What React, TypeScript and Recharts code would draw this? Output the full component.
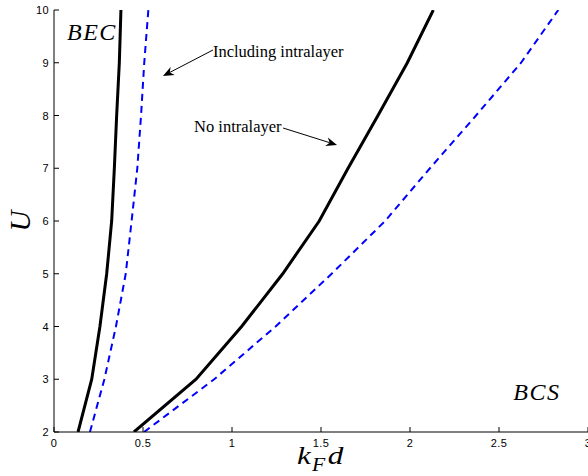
import React from 'react';
import { LineChart, Line, XAxis, YAxis, ReferenceDot, ReferenceLine } from 'recharts';

const uValues = [2, 3, 4, 5, 6, 7, 8, 9, 10];
const becNoIntra = [0.135, 0.212, 0.258, 0.296, 0.324, 0.339, 0.352, 0.367, 0.376];
const becIntra = [0.202, 0.283, 0.348, 0.403, 0.436, 0.468, 0.489, 0.507, 0.53];
const bcsNoIntra = [0.449, 0.798, 1.054, 1.285, 1.49, 1.652, 1.82, 1.985, 2.131];
const bcsIntra = [0.506, 0.9, 1.245, 1.56, 1.86, 2.112, 2.371, 2.624, 2.833];
const xTicks = [0, 0.5, 1, 1.5, 2, 2.5, 3];
const xTickLabels = ['0', '0.5', '1', '1.5', '2', '2.5', '3'];
const yTicks = [2, 3, 4, 5, 6, 7, 8, 9, 10];

const zip = (xs: number[]) => uValues.map((u, i) => ({ x: xs[i], u }));

const TICK_LEN = 5;
const tickFont = { fontFamily: 'Liberation Sans, Arial, sans-serif', fontSize: 11, fill: '#000', letterSpacing: 0.4 };

const BottomTick = (props: any) => {
  const { x, y, payload } = props;
  const idx = xTicks.indexOf(payload.value);
  return (
    <g>
      <line x1={x} y1={y} x2={x} y2={y - TICK_LEN} stroke="#000" strokeWidth={1} />
      <text x={x} y={y + 15} textAnchor="middle" {...tickFont}>
        {idx >= 0 ? xTickLabels[idx] : String(payload.value)}
      </text>
    </g>
  );
};
const TopTick = (props: any) => {
  const { x, y } = props;
  return <line x1={x} y1={y} x2={x} y2={y + TICK_LEN} stroke="#000" strokeWidth={1} />;
};
const LeftTick = (props: any) => {
  const { x, y, payload } = props;
  return (
    <g>
      <line x1={x} y1={y} x2={x + TICK_LEN} y2={y} stroke="#000" strokeWidth={1} />
      <text x={x - 5} y={y + 4} textAnchor="end" {...tickFont}>
        {String(payload.value)}
      </text>
    </g>
  );
};
const RightTick = (props: any) => {
  const { x, y } = props;
  return <line x1={x} y1={y} x2={x - TICK_LEN} y2={y} stroke="#000" strokeWidth={1} />;
};

const textShape = (label: string, opts: { italic?: boolean; size: number; spacing?: number; anchor?: string }) =>
  (props: any) => (
    <text
      x={props.cx}
      y={props.cy}
      textAnchor={opts.anchor || 'start'}
      fontFamily="Liberation Serif, Times New Roman, serif"
      fontStyle={opts.italic ? 'italic' : 'normal'}
      fontSize={opts.size}
      letterSpacing={opts.spacing || 0}
      fill="#000"
    >
      {label}
    </text>
  );

const arrowShape = (props: any) => {
  const { x1, y1, x2, y2 } = props;
  if ([x1, y1, x2, y2].some((v) => typeof v !== 'number' || isNaN(v))) return <g />;
  const dx = x2 - x1;
  const dy = y2 - y1;
  const len = Math.sqrt(dx * dx + dy * dy) || 1;
  const ux = dx / len;
  const uy = dy / len;
  const hl = 11;
  const hw = 4.5;
  const bx = x2 - ux * hl;
  const by = y2 - uy * hl;
  const nx = -uy;
  const ny = ux;
  const notchX = x2 - ux * hl * 0.7;
  const notchY = y2 - uy * hl * 0.7;
  return (
    <g>
      <line x1={x1} y1={y1} x2={notchX} y2={notchY} stroke="#000" strokeWidth={1} />
      <polygon
        points={`${x2},${y2} ${bx + nx * hw},${by + ny * hw} ${notchX},${notchY} ${bx - nx * hw},${by - ny * hw}`}
        fill="#000"
      />
    </g>
  );
};

export default function App() {
  return (
    <div style={{ position: 'absolute', left: 0, top: 0, width: 588, height: 476, background: '#fff', overflow: 'hidden' }}>
      <LineChart width={588} height={476} margin={{ top: 10, right: 0, bottom: 0, left: 0 }}>
        <XAxis
          xAxisId="b"
          type="number"
          dataKey="x"
          domain={[0, 3]}
          ticks={xTicks}
          interval={0}
          allowDataOverflow
          height={44}
          tickSize={0}
          tickMargin={0}
          tickLine={false}
          tick={<BottomTick />}
          axisLine={{ stroke: '#000', strokeWidth: 1 }}
        />
        <XAxis
          xAxisId="t"
          orientation="top"
          type="number"
          dataKey="x"
          domain={[0, 3]}
          ticks={xTicks}
          interval={0}
          allowDataOverflow
          height={0}
          tickSize={0}
          tickMargin={0}
          tickLine={false}
          tick={<TopTick />}
          axisLine={{ stroke: '#000', strokeWidth: 1 }}
        />
        <YAxis
          yAxisId="l"
          type="number"
          dataKey="u"
          domain={[2, 10]}
          ticks={yTicks}
          interval={0}
          allowDataOverflow
          width={54}
          tickSize={0}
          tickMargin={0}
          tickLine={false}
          tick={<LeftTick />}
          axisLine={{ stroke: '#000', strokeWidth: 1 }}
        />
        <YAxis
          yAxisId="r"
          orientation="right"
          type="number"
          dataKey="u"
          domain={[2, 10]}
          ticks={yTicks}
          interval={0}
          allowDataOverflow
          width={0}
          tickSize={0}
          tickMargin={0}
          tickLine={false}
          tick={<RightTick />}
          axisLine={{ stroke: '#000', strokeWidth: 1 }}
        />
        <Line xAxisId="b" yAxisId="l" data={zip(becNoIntra)} dataKey="u" type="linear" stroke="#000" strokeWidth={3} dot={false} isAnimationActive={false} />
        <Line xAxisId="b" yAxisId="l" data={zip(becIntra)} dataKey="u" type="linear" stroke="#0000ff" strokeWidth={2} strokeDasharray="7 5" dot={false} isAnimationActive={false} />
        <Line xAxisId="b" yAxisId="l" data={zip(bcsNoIntra)} dataKey="u" type="linear" stroke="#000" strokeWidth={3} dot={false} isAnimationActive={false} />
        <Line xAxisId="b" yAxisId="l" data={zip(bcsIntra)} dataKey="u" type="linear" stroke="#0000ff" strokeWidth={2} strokeDasharray="7 5" dot={false} isAnimationActive={false} />

        <ReferenceLine xAxisId="b" yAxisId="l" segment={[{ x: 0.893, y: 9.242 }, { x: 0.612, y: 8.749 }]} shape={arrowShape} />
        <ReferenceLine xAxisId="b" yAxisId="l" segment={[{ x: 1.287, y: 7.763 }, { x: 1.59, y: 7.441 }]} shape={arrowShape} />

        <ReferenceDot xAxisId="b" yAxisId="l" x={0.073} y={9.43} r={0} shape={textShape('BEC', { italic: true, size: 24, spacing: 1.5 })} />
        <ReferenceDot xAxisId="b" yAxisId="l" x={2.58} y={2.607} r={0} shape={textShape('BCS', { italic: true, size: 24, spacing: 1.5 })} />
        <ReferenceDot xAxisId="b" yAxisId="l" x={0.893} y={9.109} r={0} shape={textShape('Including intralayer', { size: 16.5 })} />
        <ReferenceDot xAxisId="b" yAxisId="l" x={0.787} y={7.687} r={0} shape={textShape('No intralayer', { size: 16.5 })} />
      </LineChart>
      <div
        style={{
          position: 'absolute',
          left: 5,
          top: 206,
          width: 30,
          height: 30,
          fontFamily: 'Liberation Serif, Times New Roman, serif',
          fontStyle: 'italic',
          fontSize: 29,
          lineHeight: '30px',
          transform: 'rotate(-90deg)',
          textAlign: 'center',
        }}
      >
        U
      </div>
      <div
        style={{
          position: 'absolute',
          left: 297,
          top: 442,
          fontFamily: 'Liberation Serif, Times New Roman, serif',
          fontStyle: 'italic',
          fontSize: 26,
          lineHeight: '28px',
          whiteSpace: 'nowrap',
          transform: 'scaleX(1.2)',
          transformOrigin: 'left top',
        }}
      >
        k<sub style={{ fontSize: 18, verticalAlign: '-7px', marginLeft: 1, marginRight: 2 }}>F</sub>d
      </div>
    </div>
  );
}
